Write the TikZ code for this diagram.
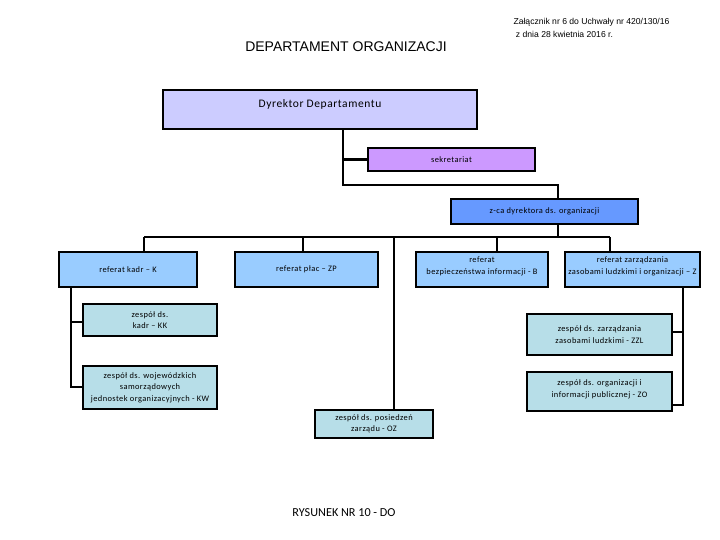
\documentclass[tikz,border=0pt]{standalone}
\usepackage{fontspec}
\setmainfont{Carlito}
\newfontfamily\arialf{Liberation Sans}
\newfontfamily\boxf[LetterSpace=5]{Carlito}
\begin{document}
\begin{tikzpicture}[x=1pt,y=-1pt,
  box/.style={draw=black,line width=1.1pt,rectangle,inner sep=1pt,align=center,font=\boxf\fontsize{8.4}{11.5}\selectfont},
  conn/.style={draw=black,line width=2.6pt},
]
\definecolor{cDyr}{HTML}{CCCCFF}
\definecolor{cSek}{HTML}{CC99FF}
\definecolor{cZca}{HTML}{6699FF}
\definecolor{cRef}{HTML}{99CCFF}
\definecolor{cZes}{HTML}{B7DEE8}
\useasboundingbox[fill=white] (0,0) rectangle (720,540);

% texts
\node[font=\arialf\fontsize{8.6}{13}\selectfont,align=left,anchor=north west] (zal) at (510,15) {Załącznik nr 6 do Uchwały nr 420/130/16\\\ z dnia 28 kwietnia 2016 r.};
\node[font=\arialf\fontsize{14}{16}\selectfont] (title) at (346,47) {DEPARTAMENT ORGANIZACJI};
\node[font=\fontsize{12.2}{14}\selectfont] (rys) at (344,513) {RYSUNEK NR 10 - DO};

% boxes
\node[box,fill=cDyr,minimum width=314pt,minimum height=39pt,
  label={[anchor=north,font=\boxf\fontsize{11.5}{13}\selectfont,yshift=-7pt]north:Dyrektor Departamentu}] (dyr) at (320,109.5) {};
\node[box,fill=cSek,minimum width=167pt,minimum height=23pt] (sek) at (451.5,159.5) {sekretariat};
\node[box,fill=cZca,minimum width=187pt,minimum height=25pt] (zca) at (544.5,211.5) {z-ca dyrektora ds. organizacji};

\node[box,fill=cRef,minimum width=138pt,minimum height=35pt] (rk) at (128,269.5) {referat kadr – K};
\node[box,fill=cRef,minimum width=143pt,minimum height=35pt] (rp) at (306.5,269.5) {referat płac – ZP};
\node[box,fill=cRef,minimum width=132pt,minimum height=35pt,text depth=8pt] (rb) at (482,269.5) {referat\\bezpieczeństwa informacji - B};
\node[box,fill=cRef,minimum width=135pt,minimum height=35pt,text depth=8pt] (rz) at (632.5,269.5) {referat zarządzania\\zasobami ludzkimi i organizacji – Z};

\node[box,fill=cZes,minimum width=134pt,minimum height=32pt] (kk) at (150,320) {zespół ds.\\kadr – KK};
\node[box,fill=cZes,minimum width=134pt,minimum height=43pt] (kw) at (150,387.5) {zespół ds. wojewódzkich\\samorządowych\\jednostek organizacyjnych - KW};
\node[box,fill=cZes,minimum width=145pt,minimum height=41pt] (zzl) at (599.5,334.5) {zespół ds. zarządzania\\zasobami ludzkimi - ZZL};
\node[box,fill=cZes,minimum width=145pt,minimum height=39pt,text depth=6pt] (zo) at (599.5,391.5) {zespół ds. organizacji i\\informacji publicznej - ZO};
\node[box,fill=cZes,minimum width=118pt,minimum height=28pt] (oz) at (374,424) {zespół ds. posiedzeń\\zarządu - OZ};

% junctions
\coordinate (t1) at (343,185);
\coordinate (t2) at (558,185);
\coordinate (b1) at (144,237);
\coordinate (b2) at (610,237);
\coordinate (bz) at (558,237);
\coordinate (bo) at (394,237);
\coordinate (bp) at (303,237);
\coordinate (bb) at (497,237);
\coordinate (lk) at (71,322);
\coordinate (lw) at (71,387);
\coordinate (rzl) at (683,332);
\coordinate (rzo) at (683,405);

% connectors
\draw[conn] (dyr.south -| t1) -- (t1) -- (t2) -- (zca.north -| t2);
\draw[conn] (sek.west -| t1) -- (sek.west);
\draw[conn] (zca.south -| bz) -- (bz);
\draw[conn] (b1) -- (b2);
\draw[conn] (b1) -- (rk.north -| b1);
\draw[conn] (bp) -- (rp.north -| bp);
\draw[conn] (bb) -- (rb.north -| bb);
\draw[conn] (b2) -- (rz.north -| b2);
\draw[conn] (bo) -- (oz.north -| bo);
\draw[conn] (rk.south -| lk) -- (lw) -- (lw -| kw.west);
\draw[conn] (lk) -- (lk -| kk.west);
\draw[conn] (rz.south -| rzo) -- (rzo) -- (rzo -| zo.east);
\draw[conn] (rzl) -- (rzl -| zzl.east);
\end{tikzpicture}
\end{document}
